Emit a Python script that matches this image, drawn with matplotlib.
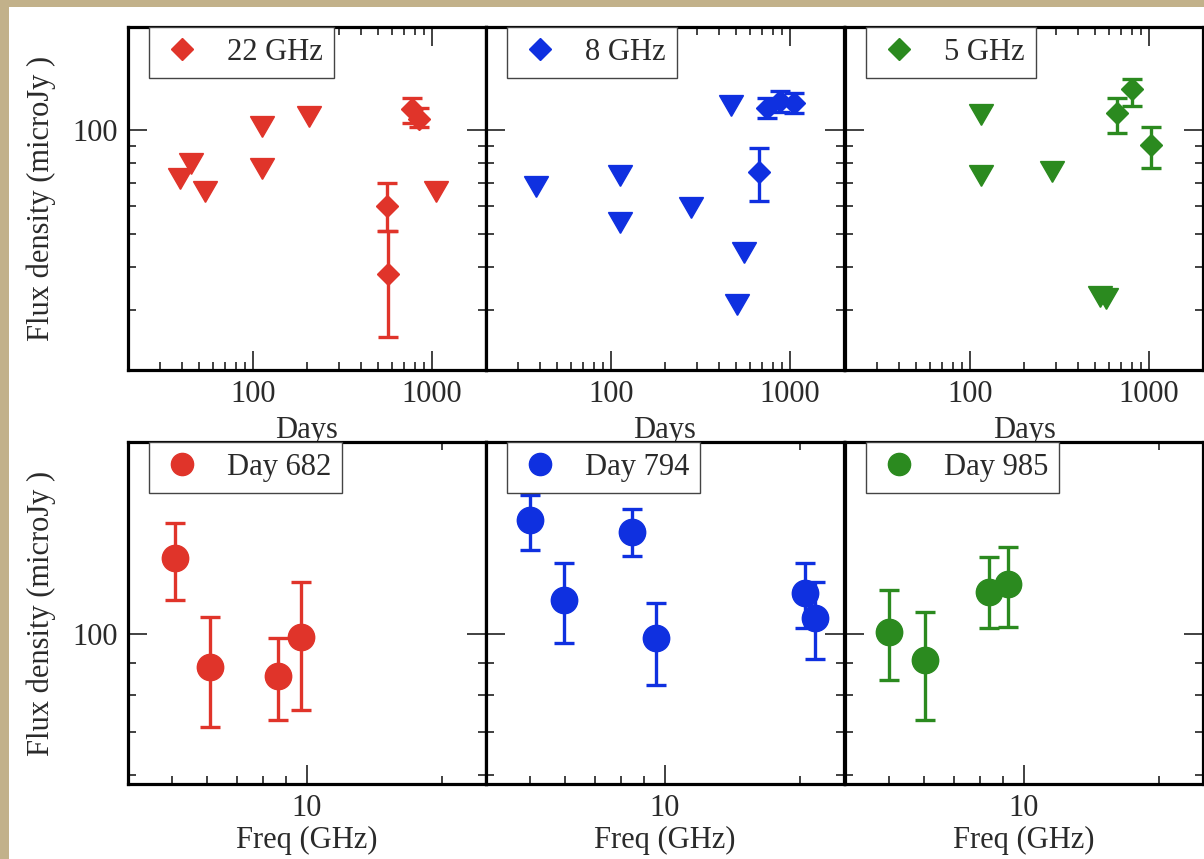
"""Radio light curves (top row) and spectra (bottom row) of the source."""
import matplotlib

matplotlib.use("Agg")
import matplotlib.pyplot as plt
import numpy as np
from matplotlib.lines import Line2D
from matplotlib.patches import Rectangle
from matplotlib.ticker import FormatStrFormatter, LogLocator, NullFormatter

plt.rcParams["font.family"] = "serif"
plt.rcParams["font.serif"] = ["Liberation Serif", "DejaVu Serif"]

RED = "#e0342a"
BLUE = "#0f30e0"
GREEN = "#2b8a1f"
TEXT = "#2a2a2a"

# --- light curves: upper limits (triangles) and detections (diamonds) ---
days_22_ul = [39, 45, 54, 112, 112, 204, 1053]
flux_22_ul = [74, 82, 68, 105, 79, 112, 68]
days_22 = [558, 565, 770, 840]
flux_22 = [60, 38, 115, 108]
err_22_lo = [9, 13, 10, 6]
err_22_hi = [10, 13, 9, 8]

days_8_ul = [38, 112, 112, 278, 470, 555, 508]
flux_8_ul = [70, 75.5, 55, 61, 120.5, 45, 31.7]
days_8 = [673, 743, 880, 1055]
flux_8 = [75.5, 116.5, 122, 120]
err_8_lo = [13.5, 8, 9, 8]
err_8_hi = [13, 8, 8, 8]

days_5_ul = [115, 115, 286, 530, 575]
flux_5_ul = [114, 75.5, 77.6, 33.5, 33]
days_5 = [665, 807, 1020]
flux_5 = [112, 132, 90.5]
err_5_lo = [14, 14, 13]
err_5_hi = [12, 9.5, 11.5]

# --- spectra at three epochs ---
freq_682 = [5.1, 6.1, 8.6, 9.7]
flux_682 = [131.5, 88.6, 85.7, 98.7]
err_682_lo = [18.6, 17.3, 12.6, 22.9]
err_682_hi = [17.5, 17.6, 12.7, 21.8]

freq_794 = [5.0, 5.96, 8.46, 9.55, 20.5, 21.5]
flux_794 = [150.7, 112.9, 144.4, 98.4, 115.8, 105.8]
err_794_lo = [15.4, 16.3, 12.0, 15.4, 13.8, 14.6]
err_794_hi = [14.4, 16.2, 12.5, 13.3, 13.3, 14.7]

freq_985 = [5.01, 6.03, 8.35, 9.2]
flux_985 = [100.5, 90.9, 116.2, 119.6]
err_985_lo = [16.0, 17.8, 14.2, 17.2]
err_985_hi = [16.5, 17.2, 15.8, 17.2]

LC_LABELS = ["22 GHz", "8 GHz", "5 GHz"]
SED_LABELS = ["Day 682", "Day 794", "Day 985"]
COLORS = [RED, BLUE, GREEN]

W, H = 1204, 859
COL_LEFT = [128, 486, 845]
COL_W = 358
TRI_DOWN = (3, 0, 180)   # equilateral triangle pointing down


def _ax_rect(left_px, top_px, bottom_px):
    return [left_px / W, 1 - bottom_px / H, COL_W / W, (bottom_px - top_px) / H]


def _style(ax, xlim, ylim, first_col):
    ax.set_xscale("log")
    ax.set_yscale("log")
    ax.set_xlim(*xlim)
    ax.set_ylim(*ylim)
    for axis in (ax.xaxis, ax.yaxis):
        axis.set_major_locator(LogLocator(base=10))
        axis.set_minor_locator(LogLocator(base=10, subs=np.arange(2, 10)))
        axis.set_major_formatter(FormatStrFormatter("%g"))
        axis.set_minor_formatter(NullFormatter())
    ax.tick_params(which="both", direction="in", top=True, right=True,
                   width=1.3, color="#333333", labelsize=22, labelcolor=TEXT)
    ax.tick_params(which="major", length=14)
    ax.tick_params(which="minor", length=6)
    ax.tick_params(axis="x", pad=7)
    ax.tick_params(axis="y", pad=7)
    if not first_col:
        ax.tick_params(labelleft=False)
    for sp in ax.spines.values():
        sp.set_linewidth(2.3)
        sp.set_color("black")


def _legend(ax, marker, color, ms, label):
    handle = Line2D([], [], marker=marker, ls="none", color=color, ms=ms)
    leg = ax.legend([handle], [label], loc="upper left",
                    bbox_to_anchor=(21 / COL_W, 1.0), borderaxespad=0,
                    fancybox=False, framealpha=1, edgecolor="#444444",
                    borderpad=0.36, handlelength=1.44, handletextpad=0.75,
                    fontsize=22, labelcolor=TEXT)
    leg.get_frame().set_linewidth(1.0)


fig = plt.figure(figsize=(W / 100, H / 100), dpi=100)
fig.patch.set_facecolor("#c2b18a")
fig.add_artist(Rectangle((9 / W, 0), 1, 1 - 7 / H, transform=fig.transFigure,
                         facecolor="white", edgecolor="none", zorder=-1))

lc_panels = [
    (days_22_ul, flux_22_ul, days_22, flux_22, err_22_lo, err_22_hi),
    (days_8_ul, flux_8_ul, days_8, flux_8, err_8_lo, err_8_hi),
    (days_5_ul, flux_5_ul, days_5, flux_5, err_5_lo, err_5_hi),
]
sed_panels = [
    (freq_682, flux_682, err_682_lo, err_682_hi),
    (freq_794, flux_794, err_794_lo, err_794_hi),
    (freq_985, flux_985, err_985_lo, err_985_hi),
]

# top row: flux vs days
for i, (dul, ful, d, f, lo, hi) in enumerate(lc_panels):
    ax = fig.add_axes(_ax_rect(COL_LEFT[i], 27, 370))
    c = COLORS[i]
    ax.plot(dul, ful, marker=TRI_DOWN, ms=20, color=c, ls="none")
    ax.errorbar(d, f, yerr=[lo, hi], fmt="D", ms=11, color=c, ecolor=c,
                elinewidth=2.4, capsize=7, capthick=2.4)
    _style(ax, (20, 2000), (20, 200), i == 0)
    ax.set_xlabel("Days", fontsize=22, color=TEXT, labelpad=5)
    if i == 0:
        ax.set_ylabel("Flux density (microJy )", fontsize=22, color=TEXT, labelpad=12)
    _legend(ax, "D", c, 11, LC_LABELS[i])

# bottom row: spectra
for i, (nu, f, lo, hi) in enumerate(sed_panels):
    ax = fig.add_axes(_ax_rect(COL_LEFT[i], 442, 784))
    c = COLORS[i]
    ax.errorbar(nu, f, yerr=[lo, hi], fmt="o", ms=19, color=c, ecolor=c,
                elinewidth=2.4, capsize=7, capthick=2.4)
    _style(ax, (4, 25), (58, 200), i == 0)
    ax.set_xlabel("Freq (GHz)", fontsize=22, color=TEXT, labelpad=2)
    if i == 0:
        ax.set_ylabel("Flux density (microJy )", fontsize=22, color=TEXT, labelpad=12)
    _legend(ax, "o", c, 16, SED_LABELS[i])

fig.savefig("out.png", dpi=100, facecolor=fig.get_facecolor())
